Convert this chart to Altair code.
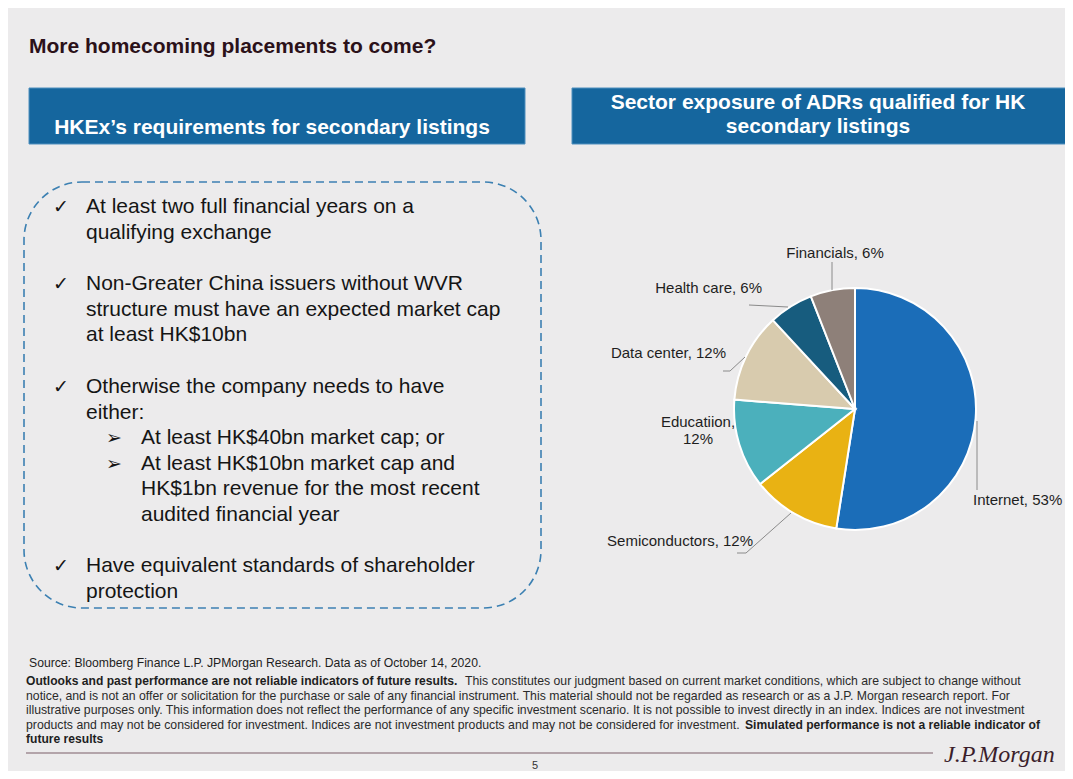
import altair as alt
import pandas as pd

# ---------------- data ----------------
sectors = ["Internet", "Semiconductors", "Educatiion", "Data center", "Health care", "Financials"]
shares = [53, 12, 12, 12, 6, 6]
sector_colors = ["#1B6DB8", "#E9B213", "#4BB0BC", "#D8CBAE", "#175C7E", "#8E8079"]

title = "More homecoming placements to come?"
left_header = "HKEx\u2019s requirements for secondary listings"
right_header = ["Sector exposure of ADRs qualified for HK", "secondary listings"]

bullet_lines = [
    "At least two full financial years on a",
    "qualifying exchange",
    "Non-Greater China issuers without WVR",
    "structure must have an expected market cap",
    "at least HK$10bn",
    "Otherwise the company needs to have",
    "either:",
    "At least HK$40bn market cap; or",
    "At least HK$10bn market cap and",
    "HK$1bn revenue for the most recent",
    "audited financial year",
    "Have equivalent standards of shareholder",
    "protection",
]
# 0 = new check bullet, 1 = continuation, 2 = new arrow sub-bullet, 3 = sub continuation
bullet_level = [0, 1, 0, 1, 1, 0, 1, 2, 2, 3, 3, 0, 1]

source_text = "Source: Bloomberg Finance L.P. JPMorgan Research. Data as of October 14, 2020."
footer_texts = [
    "Outlooks and past performance are not reliable indicators of future results.",
    "This constitutes our judgment based on current market conditions, which are subject to change without",
    "notice, and is not an offer or solicitation for the purchase or sale of any financial instrument. This material should not be regarded as research or as a J.P. Morgan research report. For",
    "illustrative purposes only. This information does not reflect the performance of any specific investment scenario. It is not possible to invest directly in an index. Indices are not investment",
    "products and may not be considered for investment. Indices are not investment products and may not be considered for investment.",
    "Simulated performance is not a reliable indicator of",
    "future results",
]
footer_bold = [True, False, False, False, False, True, True]
page_number = "5"
logo_text = "J.P.Morgan"

# ---------------- layout (pixel positions on the slide) ----------------
W, H = 1057, 763
OFF = 8
BG = "#ECEBEC"
SANS = "Liberation Sans, Arial, Helvetica, sans-serif"
SYM = "DejaVu Sans, sans-serif"

xs = alt.Scale(domain=[OFF, OFF + W], nice=False, zero=False)
ys = alt.Scale(domain=[OFF, OFF + H], nice=False, zero=False, reverse=True)

bullet_base = [213, 238.5, 290, 315.5, 341, 393, 418.5, 444, 469.5, 495, 520.5, 572, 597.5]
level_x = {0: 86, 1: 86, 2: 141, 3: 141}
marker_x = {0: 53, 2: 106}
marker_sym = {0: "\u2713", 2: "\u27A2"}
marker_size = {0: 19, 2: 19}

pie_cx, pie_cy, pie_r = 855, 409, 121

label_x = [973, 753, 698, 726, 762, 835]
label_y = [505, 546, 427, 358, 293, 258]
label_align = ["left", "right", "center", "right", "right", "center"]

leaders = {
    "Financials": [(832, 262), (832, 290)],
    "Health care": [(749, 305), (788, 307)],
    "Data center": [(723, 371), (730, 371), (745, 357)],
    "Semiconductors": [(737, 553), (746, 553), (791, 513)],
    "Internet": [(977, 421), (977, 490)],
}

footer_x = [26, 465, 26, 26, 26, 745, 26]
footer_y = [685, 685, 699.5, 714, 728.5, 728.5, 743]


def text_layer(df, **kw):
    return alt.Chart(df).mark_text(**kw).encode(
        x=alt.X("x:Q", scale=xs, axis=None),
        y=alt.Y("y:Q", scale=ys, axis=None),
        text="text:N",
    )


layers = []

# header boxes
boxes = pd.DataFrame({"x": [29, 572], "x2": [525, 1068], "y": [88, 88], "y2": [144, 144]})
layers.append(
    alt.Chart(boxes).mark_rect(fill="#15669E", stroke="#4F8FBE", strokeWidth=1).encode(
        x=alt.X("x:Q", scale=xs, axis=None), x2="x2:Q",
        y=alt.Y("y:Q", scale=ys, axis=None), y2="y2:Q",
    )
)

# dashed rounded box
dbox = pd.DataFrame({"x": [24], "x2": [541], "y": [182], "y2": [608]})
layers.append(
    alt.Chart(dbox).mark_rect(fillOpacity=0, stroke="#3C80B2", strokeWidth=1.6,
                               strokeDash=[8, 5], cornerRadius=58).encode(
        x=alt.X("x:Q", scale=xs, axis=None), x2="x2:Q",
        y=alt.Y("y:Q", scale=ys, axis=None), y2="y2:Q",
    )
)

# title
layers.append(text_layer(pd.DataFrame({"x": [29], "y": [53], "text": [title]}),
                         align="left", baseline="alphabetic", font=SANS, fontSize=21,
                         fontWeight="bold", color="#2B1119"))

# header texts
layers.append(text_layer(pd.DataFrame({"x": [272, 818, 818], "y": [134, 109, 133],
                                       "text": [left_header] + right_header}),
                         align="center", baseline="alphabetic", font=SANS, fontSize=21,
                         fontWeight="bold", color="#FFFFFF"))

# bullets
body = pd.DataFrame({
    "x": [level_x[l] for l in bullet_level],
    "y": bullet_base,
    "text": bullet_lines,
})
layers.append(text_layer(body, align="left", baseline="alphabetic", font=SANS,
                         fontSize=21, color="#151515"))
for lv in (0, 2):
    mk = pd.DataFrame({
        "x": [marker_x[lv] for l in bullet_level if l == lv],
        "y": [b for b, l in zip(bullet_base, bullet_level) if l == lv],
        "text": [marker_sym[lv] for l in bullet_level if l == lv],
    })
    layers.append(text_layer(mk, align="left", baseline="alphabetic", font=SYM,
                             fontSize=marker_size[lv], color="#151515"))

# pie
pie_df = pd.DataFrame({"sector": sectors, "share": shares, "idx": list(range(len(sectors)))})
layers.append(
    alt.Chart(pie_df).mark_arc(outerRadius=pie_r, stroke="#FFFFFF", strokeWidth=2).encode(
        theta=alt.Theta("share:Q", stack=True),
        order=alt.Order("idx:Q"),
        color=alt.Color("sector:N", scale=alt.Scale(domain=sectors, range=sector_colors), legend=None),
        x=alt.value(pie_cx - OFF),
        y=alt.value(pie_cy - OFF),
    )
)

# leader lines
lrows = []
for name, pts in leaders.items():
    for i, (px, py) in enumerate(pts):
        lrows.append({"id": name, "seq": i, "x": px, "y": py})
layers.append(
    alt.Chart(pd.DataFrame(lrows)).mark_line(color="#8A8A8A", strokeWidth=1).encode(
        x=alt.X("x:Q", scale=xs, axis=None),
        y=alt.Y("y:Q", scale=ys, axis=None),
        detail="id:N", order="seq:Q",
    )
)

# pie labels
for s, v, lx, ly, la in zip(sectors, shares, label_x, label_y, label_align):
    txt = f"{s},\n{v}%" if s == "Educatiion" else f"{s}, {v}%"
    layers.append(text_layer(pd.DataFrame({"x": [lx], "y": [ly], "text": [txt]}),
                             align=la, baseline="alphabetic", font=SANS, fontSize=15,
                             lineBreak="\n", lineHeight=17, color="#1E1E1E"))

# footer
layers.append(text_layer(pd.DataFrame({"x": [29], "y": [667], "text": [source_text]}),
                         align="left", baseline="alphabetic", font=SANS, fontSize=12.2,
                         color="#1E1E1E"))
fdf = pd.DataFrame({"x": footer_x, "y": footer_y, "text": footer_texts, "bold": footer_bold})
layers.append(text_layer(fdf[fdf.bold], align="left", baseline="alphabetic", font=SANS,
                         fontSize=12.1, fontWeight="bold", color="#1E1E1E"))
layers.append(text_layer(fdf[~fdf.bold], align="left", baseline="alphabetic", font=SANS,
                         fontSize=12.25, color="#2A2A2A"))

# footer rule
rule_df = pd.DataFrame({"x": [26], "x2": [933], "y": [753]})
layers.append(
    alt.Chart(rule_df).mark_rule(color="#A08C94", strokeWidth=1.6).encode(
        x=alt.X("x:Q", scale=xs, axis=None), x2="x2:Q",
        y=alt.Y("y:Q", scale=ys, axis=None),
    )
)

layers.append(text_layer(pd.DataFrame({"x": [535], "y": [769], "text": [page_number]}),
                         align="center", baseline="alphabetic", font=SANS, fontSize=11,
                         color="#333333"))
layers.append(text_layer(pd.DataFrame({"x": [944], "y": [762], "text": [logo_text]}),
                         align="left", baseline="alphabetic", font="Liberation Serif, serif",
                         fontSize=24, fontStyle="italic", color="#3B1E2B"))

chart = alt.layer(*layers).properties(
    width=W, height=H, padding=0, autosize=alt.AutoSizeParams(type="none"),
    background=BG,
).configure_view(stroke=None)

chart.save("out.html", embed_options={"renderer": "svg", "actions": False})
